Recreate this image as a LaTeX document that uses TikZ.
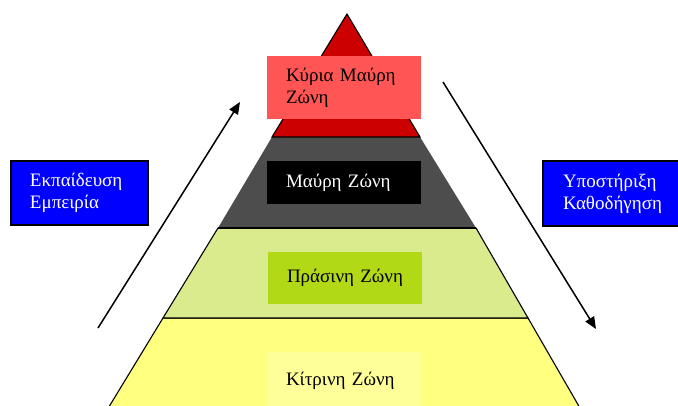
\documentclass[tikz,border=0pt]{standalone}
\usepackage{fontspec}
\setmainfont{Liberation Serif}
\usetikzlibrary{arrows.meta}
\definecolor{redtri}{HTML}{CC0000}
\definecolor{redbox}{HTML}{FF5555}
\definecolor{graylay}{HTML}{4D4D4D}
\definecolor{greenlay}{HTML}{D9EB8C}
\definecolor{greenbox}{HTML}{B2D916}
\definecolor{yellowlay}{HTML}{FFFF80}
\definecolor{yellowbox}{HTML}{FFFF99}
\definecolor{bluebox}{HTML}{0000FF}
\tikzset{
  zonebox/.style={rectangle, inner sep=0pt, minimum width=154pt, text width=116pt, align=left,
     font=\fontsize{19}{22}\selectfont},
  sidebox/.style={rectangle, draw=black, line width=1.2pt, fill=bluebox, text=white, inner sep=0pt,
     align=left, font=\fontsize{19}{22}\selectfont},
  layer/.style={draw=black, line width=1.1pt, line join=miter},
  flow/.style={draw=black, line width=1.5pt, -{Triangle[length=12pt,width=10pt]}}
}
\begin{document}
\begin{tikzpicture}[x=1pt,y=-1pt]
\useasboundingbox (0,0) rectangle (678,405);
\begin{scope}
\clip (0,0) rectangle (678,405);
% yellow layer
\path[layer, fill=yellowlay] (163,318) -- (528,318) -- (584,415) -- (104,415) -- cycle;
% green layer
\path[layer, fill=greenlay] (218,228) -- (476,228) -- (528,318) -- (163,318) -- cycle;
% gray layer
\path[fill=graylay] (272,137) -- (420,137) -- (476,228) -- (218,228) -- cycle;
\draw[black, line width=1.1pt] (218,228) -- (476,228);
% red triangle
\path[layer, fill=redtri] (347,14) -- (420,137) -- (272,137) -- cycle;
% zone boxes
\node[zonebox, fill=redbox, text=black, minimum height=63pt] (kmz) at (344,87.5) {Κύρια~Μαύρη\\Ζώνη};
\node[zonebox, fill=black, text=white, minimum height=43pt] (mz) at (344,182.5) {Μαύρη~Ζώνη};
\node[zonebox, fill=greenbox, text=black, minimum height=52pt] (pz) at (345,278) {Πράσινη~Ζώνη};
\node[zonebox, fill=yellowbox, text=black, minimum height=58pt] (kz) at (344,381) {Κίτρινη~Ζώνη};
% side boxes
\node[sidebox, minimum width=137pt, minimum height=64pt, text width=99pt] (ee) at (79.5,193) {Εκπαίδευση\\Εμπειρία};
\node[sidebox, minimum width=140pt, minimum height=65pt, text width=100pt] (yk) at (613,193.5) {Υποστήριξη\\Καθοδήγηση};
\end{scope}
% arrows
\coordinate (la) at (98,328);
\coordinate (lb) at (240,102);
\coordinate (ra) at (443,82);
\coordinate (rb) at (596,329);
\draw[flow] (la) -- (lb);
\draw[flow] (ra) -- (rb);
\end{tikzpicture}
\end{document}
